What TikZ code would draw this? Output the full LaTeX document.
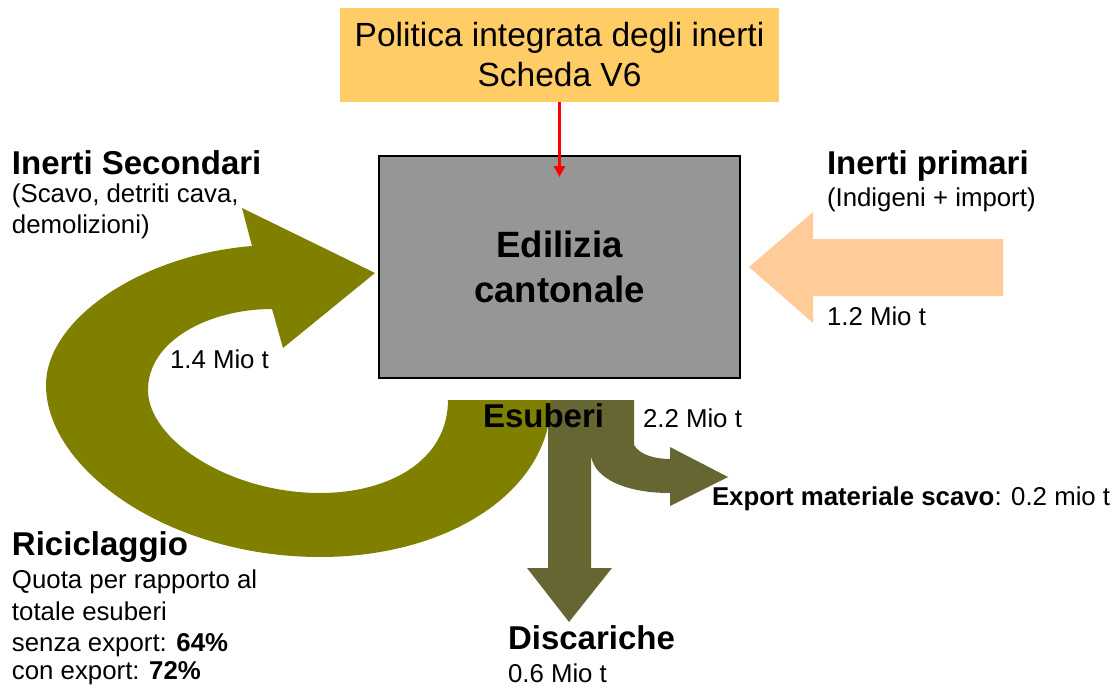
\documentclass[tikz,border=0pt]{standalone}
\usepackage{fontspec}
\setmainfont{Liberation Sans}
\usetikzlibrary{arrows.meta}
\definecolor{boxorange}{HTML}{FFCC66}
\definecolor{boxgrey}{HTML}{969696}
\definecolor{olivearrow}{HTML}{808000}
\definecolor{darkolive}{HTML}{666633}
\definecolor{peach}{HTML}{FFCC99}
\begin{document}
\begin{tikzpicture}[x=1pt,y=-1pt,
  lbl/.style={anchor=base west,inner sep=0pt,outer sep=0pt,font=\fontsize{25.8}{31}\selectfont},
  head/.style={anchor=base west,inner sep=0pt,outer sep=0pt,font=\fontsize{33}{40}\selectfont\bfseries},
  blockarrow/.style={draw=none},
]
\useasboundingbox (0,0) rectangle (1112,688);
\fill[white] (0,0) rectangle (1112,688);

% boxes
\node[fill=boxorange, minimum width=439pt, minimum height=94pt, inner sep=0pt, align=center,
      font=\fontsize{33.5}{40}\selectfont] (policy) at (559.5,55) {Politica integrata degli inerti\\Scheda V6};
\node[fill=boxgrey, draw=black, line width=1.2pt, minimum width=361pt, minimum height=222pt, inner sep=0pt,
      align=center, font=\fontsize{36.6}{45}\selectfont\bfseries] (edil) at (559.5,267) {Edilizia\\cantonale};

% red connector
\coordinate (redend) at (559.5,177);
\draw[red, line width=2.5pt, -{Triangle[length=11pt,width=11pt]}] (policy.south) -- (redend);

% primary inputs arrow
\fill[peach, blockarrow] (749,267) -- (813,212) -- (813,239) -- (1003,239) -- (1003,296)
  -- (813,296) -- (813,323) -- cycle;

% surplus split (discariche / export)
\fill[darkolive, blockarrow] (548,400) -- (634,400) -- (634,445)
  .. controls (640,455) and (655,459) .. (670,459) -- (670,447) -- (728,477) -- (670,506) -- (670,493)
  .. controls (620,493) and (591,475) .. (591,453) -- (591,568) -- (612,568) -- (569,622)
  -- (527,568) -- (548,568) -- cycle;

% recycling loop
\fill[olivearrow, blockarrow] (551,400) .. controls (551,490) and (450,557) .. (320,557)
  .. controls (170,557) and (46,470) .. (46,385)
  .. controls (46,320) and (140,255) .. (252,246)
  -- (242,208) -- (375,273) -- (283,348) -- (272,309)
  .. controls (210,309) and (148,340) .. (148,390)
  .. controls (148,440) and (230,493) .. (320,493)
  .. controls (390,493) and (448,460) .. (448,400) -- cycle;

% texts
\node[head] (secT) at (12,174) {Inerti Secondari};
\node[lbl] (sec1) at (12,202) {(Scavo, detriti cava,};
\node[lbl] (sec2) at (12,233) {demolizioni)};
\node[head] (primT) at (827,174) {Inerti primari};
\node[lbl] (prim1) at (827,206) {(Indigeni + import)};
\node[lbl] (q12) at (827,325) {1.2 Mio t};
\node[lbl] (q14) at (170,368) {1.4 Mio t};
\node[head] (esub) at (483,427) {Esuberi};
\node[lbl] (q22) at (643,427) {2.2 Mio t};
\node[lbl] (expo) at (712,505) {\textbf{Export materiale scavo}: 0.2 mio t};
\node[head] (ricT) at (12,555) {Riciclaggio};
\node[lbl] (ric1) at (12,588) {Quota per rapporto al};
\node[lbl] (ric2) at (12,620) {totale esuberi};
\node[lbl] (ric3) at (12,651) {senza export: \textbf{64\%}};
\node[lbl] (ric4) at (12,679) {con export: \textbf{72\%}};
\node[head] (disT) at (508,649) {Discariche};
\node[lbl] (dis1) at (508,682) {0.6 Mio t};
\end{tikzpicture}
\end{document}
